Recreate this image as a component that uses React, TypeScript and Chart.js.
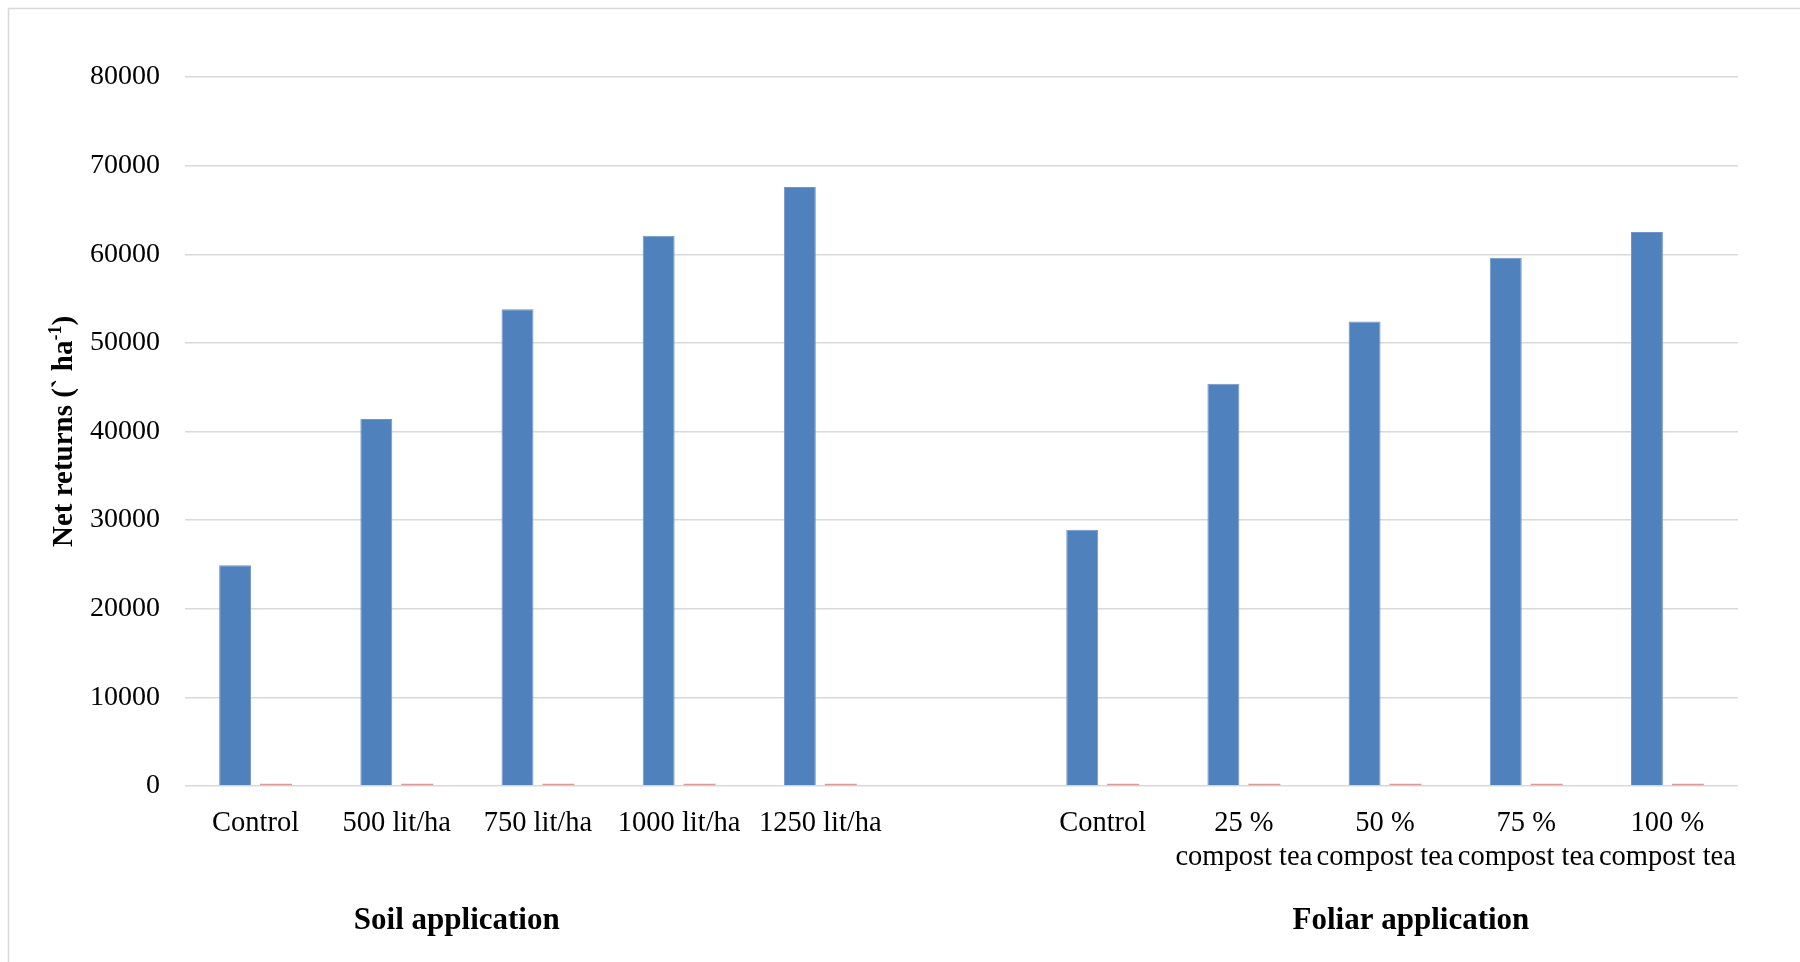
import React, { useEffect, useRef } from "react";
import { Chart, registerables } from "chart.js";

Chart.register(...registerables);

// Treatments: soil-applied doses, a spacer slot, then foliar compost-tea strengths
const categories: string[][] = [
  ["Control"],
  ["500 lit/ha"],
  ["750 lit/ha"],
  ["1000 lit/ha"],
  ["1250 lit/ha"],
  [""],
  ["Control"],
  ["25 %", "compost tea"],
  ["50 %", "compost tea"],
  ["75 %", "compost tea"],
  ["100 %", "compost tea"],
];

// Net returns (Rs ha-1)
const netReturns: (number | null)[] = [
  24900, 41400, 53800, 62100, 67600, null, 28900, 45400, 52400, 59600, 62500,
];

// Second series (very small values, shown as thin bars on the baseline)
const secondSeries: (number | null)[] = [
  250, 250, 250, 250, 250, null, 250, 250, 250, 250, 250,
];

const yTicks: number[] = [0, 10000, 20000, 30000, 40000, 50000, 60000, 70000, 80000];

const groupLabels: { text: string; at: number }[] = [
  { text: "Soil application", at: 0.175 },
  { text: "Foliar application", at: 0.7894 },
];

const FONT = "'Liberation Serif', 'Times New Roman', serif";

const decorations = {
  id: "decorations",
  afterDraw(chart: any) {
    const { ctx, chartArea } = chart;
    ctx.save();

    // outer frame
    ctx.strokeStyle = "#d9d9d9";
    ctx.lineWidth = 1.5;
    ctx.strokeRect(8.5, 8.5, chart.width + 10, chart.height + 10);

    // rotated y-axis title with superscript
    const main = "Net returns (` ha";
    const sup = "-1";
    const tail = ")";
    const mainFont = `bold 29px ${FONT}`;
    const supFont = `bold 18px ${FONT}`;
    ctx.font = mainFont;
    const wMain = ctx.measureText(main).width;
    const wTail = ctx.measureText(tail).width;
    ctx.font = supFont;
    const wSup = ctx.measureText(sup).width;
    const total = wMain + wSup + wTail;

    ctx.translate(65, (chartArea.top + chartArea.bottom) / 2);
    ctx.rotate(-Math.PI / 2);
    ctx.fillStyle = "#000";
    ctx.textBaseline = "middle";
    ctx.textAlign = "left";
    let x = -total / 2;
    ctx.font = mainFont;
    ctx.fillText(main, x, 0);
    x += wMain;
    ctx.font = supFont;
    ctx.fillText(sup, x, -9);
    x += wSup;
    ctx.font = mainFont;
    ctx.fillText(tail, x, 0);
    ctx.restore();

    // group captions under the category labels
    ctx.save();
    ctx.font = `bold 31px ${FONT}`;
    ctx.fillStyle = "#000";
    ctx.textAlign = "center";
    ctx.textBaseline = "middle";
    const w = chartArea.right - chartArea.left;
    for (const g of groupLabels) {
      ctx.fillText(g.text, chartArea.left + w * g.at, 921);
    }
    ctx.restore();
  },
};

export default function App() {
  const canvasRef = useRef<HTMLCanvasElement | null>(null);

  useEffect(() => {
    const canvas = canvasRef.current;
    if (!canvas) return;
    const chart = new Chart(canvas, {
      type: "bar",
      data: {
        labels: categories,
        datasets: [
          {
            label: "Net returns",
            data: netReturns,
            backgroundColor: "#4f81bd",
            borderColor: "#7096c8",
            borderWidth: 1,
            categoryPercentage: 0.58,
            barPercentage: 0.78,
          },
          {
            label: "Series 2",
            data: secondSeries,
            backgroundColor: "#dc9a98",
            categoryPercentage: 0.58,
            barPercentage: 0.78,
          },
        ],
      },
      options: {
        responsive: false,
        animation: false,
        layout: { padding: { left: 0, right: 62, top: 77, bottom: 0 } },
        plugins: {
          legend: { display: false },
          title: { display: false },
          tooltip: { enabled: false },
        },
        scales: {
          x: {
            grid: { display: false, drawTicks: false },
            border: { display: false },
            ticks: {
              color: "#000",
              font: { family: FONT, size: 28.5, lineHeight: 34 / 28.5 },
              padding: 21,
              autoSkip: false,
              maxRotation: 0,
              minRotation: 0,
            },
            afterFit: (scale: any) => {
              scale.height = 176;
            },
          },
          y: {
            min: 0,
            max: 80000,
            afterBuildTicks: (scale: any) => {
              scale.ticks = yTicks.map((v) => ({ value: v }));
            },
            grid: { color: "#d9d9d9", lineWidth: 1.5, drawTicks: false },
            border: { display: false },
            ticks: {
              color: "#000",
              font: { family: FONT, size: 28 },
              padding: 25,
              callback: (v: any) => String(v),
            },
            afterFit: (scale: any) => {
              scale.width = 185;
            },
          },
        },
      },
      plugins: [decorations],
    });
    return () => chart.destroy();
  }, []);

  return (
    <div style={{ position: "fixed", left: 0, top: 0, width: 1800, height: 962, background: "#fff" }}>
      <canvas ref={canvasRef} width={1800} height={962} style={{ display: "block" }} />
    </div>
  );
}
